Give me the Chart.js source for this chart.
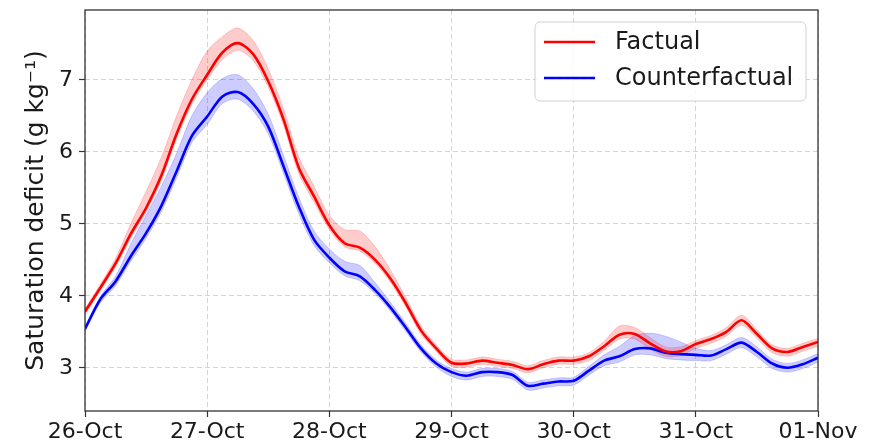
<!DOCTYPE html>
<html><head><meta charset="utf-8">
<script src="https://cdn.jsdelivr.net/npm/chart.js@4"></script>
<style>html,body{margin:0;padding:0;background:#fff}#wrap{width:874px;height:447px}</style>
</head><body><div id="wrap"><canvas id="c" width="874" height="447"></canvas></div>
<script>
// ---- data (time in hours since 26-Oct 00:00) ----
const dayLabels = ['26-Oct','27-Oct','28-Oct','29-Oct','30-Oct','31-Oct','01-Nov'];
const yTicks = [3, 4, 5, 6, 7];
const hours = [0,3,6,9,12,15,18,21,24,27,30,33,36,39,42,45,48,51,54,57,60,63,66,69,72,75,78,81,84,87,90,93,96,99,102,105,108,111,114,117,120,123,126,129,132,135,138,141,144];

const factual = [3.78,4.11,4.45,4.86,5.22,5.67,6.25,6.73,7.07,7.38,7.51,7.36,6.98,6.45,5.78,5.38,4.98,4.73,4.67,4.50,4.24,3.90,3.52,3.27,3.07,3.06,3.10,3.07,3.04,2.98,3.05,3.10,3.10,3.16,3.30,3.46,3.47,3.34,3.23,3.23,3.33,3.40,3.50,3.66,3.47,3.27,3.22,3.29,3.36];
const factualHigh = [3.82,4.16,4.52,5.00,5.45,5.92,6.50,7.00,7.40,7.60,7.72,7.55,7.15,6.60,5.93,5.52,5.12,4.92,4.90,4.68,4.36,3.98,3.58,3.32,3.12,3.11,3.15,3.12,3.09,3.03,3.10,3.15,3.15,3.21,3.37,3.58,3.56,3.42,3.29,3.29,3.38,3.45,3.56,3.73,3.53,3.32,3.27,3.34,3.41];
const factualLow = [3.74,4.07,4.40,4.80,5.16,5.60,6.18,6.66,7.00,7.28,7.41,7.27,6.90,6.37,5.70,5.30,4.92,4.68,4.62,4.45,4.19,3.85,3.47,3.23,3.02,3.01,3.05,3.02,2.99,2.93,3.00,3.05,3.05,3.10,3.24,3.40,3.40,3.26,3.16,3.17,3.27,3.34,3.44,3.59,3.41,3.21,3.16,3.23,3.30];

const counterfactual = [3.54,3.95,4.20,4.55,4.87,5.25,5.73,6.22,6.49,6.77,6.83,6.67,6.35,5.80,5.24,4.78,4.53,4.34,4.27,4.08,3.84,3.56,3.27,3.06,2.94,2.89,2.94,2.94,2.90,2.75,2.78,2.81,2.82,2.96,3.10,3.16,3.26,3.27,3.21,3.19,3.18,3.17,3.26,3.35,3.22,3.06,3.00,3.05,3.14];
const counterfactualHigh = [3.57,3.99,4.27,4.72,5.12,5.52,5.98,6.50,6.82,7.02,7.07,6.88,6.52,5.95,5.37,4.90,4.65,4.48,4.42,4.18,3.91,3.62,3.32,3.11,2.99,2.94,2.99,2.99,2.95,2.80,2.83,2.86,2.87,3.02,3.18,3.30,3.45,3.48,3.44,3.36,3.27,3.24,3.32,3.42,3.29,3.12,3.06,3.11,3.20];
const counterfactualLow = [3.51,3.90,4.14,4.48,4.80,5.17,5.64,6.13,6.38,6.67,6.73,6.57,6.25,5.70,5.14,4.70,4.46,4.28,4.21,4.03,3.79,3.51,3.22,3.01,2.88,2.83,2.88,2.88,2.84,2.69,2.72,2.75,2.76,2.90,3.03,3.08,3.18,3.18,3.13,3.11,3.10,3.10,3.19,3.28,3.15,2.99,2.94,2.99,3.08];

const seriesNames = ['Factual', 'Counterfactual'];
// ---------------------------------------------------------------

const toXY = arr => arr.map((v, i) => ({x: hours[i] / 24, y: v}));
const FONT = "'DejaVu Sans', 'Liberation Sans', sans-serif";
const TXT = '#1a1a1a';

const lineCommon = {pointRadius: 0, borderWidth: 2.6, tension: 0.3, fill: false};
const bandCommon = {pointRadius: 0, borderWidth: 1, tension: 0.3};

const datasets = [
  Object.assign({label: seriesNames[0], data: toXY(factual), borderColor: '#ff0000'}, lineCommon),
  Object.assign({label: seriesNames[1], data: toXY(counterfactual), borderColor: '#0000ff'}, lineCommon),
  Object.assign({label: 'fh', data: toXY(factualHigh), borderColor: 'rgba(255,0,0,0.18)', backgroundColor: 'rgba(255,0,0,0.2)', fill: '+1'}, bandCommon),
  Object.assign({label: 'fl', data: toXY(factualLow), borderColor: 'rgba(255,0,0,0.18)', fill: false}, bandCommon),
  Object.assign({label: 'ch', data: toXY(counterfactualHigh), borderColor: 'rgba(0,0,255,0.18)', backgroundColor: 'rgba(0,0,255,0.2)', fill: '+1'}, bandCommon),
  Object.assign({label: 'cl', data: toXY(counterfactualLow), borderColor: 'rgba(0,0,255,0.18)', fill: false}, bandCommon)
];

const framePlugin = {
  id: 'frameLegend',
  afterDraw(chart) {
    const ctx = chart.ctx, a = chart.chartArea;
    ctx.save();
    ctx.strokeStyle = '#333';
    ctx.lineWidth = 1.3;
    ctx.strokeRect(a.left, a.top, a.right - a.left, a.bottom - a.top);
    // legend
    const bw = 271, bh = 79;
    const bx = a.right - 12 - bw, by = a.top + 12;
    const r = 5;
    ctx.beginPath();
    ctx.moveTo(bx + r, by);
    ctx.arcTo(bx + bw, by, bx + bw, by + bh, r);
    ctx.arcTo(bx + bw, by + bh, bx, by + bh, r);
    ctx.arcTo(bx, by + bh, bx, by, r);
    ctx.arcTo(bx, by, bx + bw, by, r);
    ctx.closePath();
    ctx.fillStyle = 'rgba(255,255,255,0.85)';
    ctx.fill();
    ctx.strokeStyle = '#d0d0d0';
    ctx.lineWidth = 1;
    ctx.stroke();
    ctx.font = '24px ' + FONT;
    ctx.textBaseline = 'middle';
    ctx.fillStyle = TXT;
    [0, 1].forEach((k, j) => {
      const ds = chart.data.datasets[k];
      const yy = by + 20 + j * 36;
      ctx.strokeStyle = ds.borderColor;
      ctx.lineWidth = 2.6;
      ctx.beginPath();
      ctx.moveTo(bx + 9, yy);
      ctx.lineTo(bx + 60, yy);
      ctx.stroke();
      ctx.fillText(ds.label, bx + 80, yy + 1);
    });
    ctx.restore();
  }
};

new Chart(document.getElementById('c'), {
  type: 'line',
  data: {datasets},
  options: {
    responsive: false,
    animation: false,
    devicePixelRatio: 1,
    layout: {padding: {left: 0, right: 56, top: 10, bottom: 0}},
    plugins: {legend: {display: false}, tooltip: {enabled: false}},
    scales: {
      x: {
        type: 'linear',
        min: 0, max: dayLabels.length - 1,
        afterFit(s) { s.height = 36; s.paddingLeft = 0; s.paddingRight = 0; },
        afterBuildTicks(s) { s.ticks = dayLabels.map((_, i) => ({value: i})); },
        ticks: {
          callback: v => dayLabels[v],
          font: {family: FONT, size: 22},
          color: TXT,
          padding: 2,
          maxRotation: 0, autoSkip: false
        },
        grid: {color: '#d4d4d4', lineWidth: 1, tickColor: '#333', tickLength: 6, tickWidth: 1.2},
        border: {display: false, dash: [5, 3]}
      },
      y: {
        min: 2.40, max: 7.97,
        afterFit(s) { s.width = 85; s.paddingTop = 0; s.paddingBottom = 0; },
        afterBuildTicks(s) { s.ticks = yTicks.map(v => ({value: v})); },
        ticks: {
          font: {family: FONT, size: 22},
          color: TXT,
          padding: 6
        },
        grid: {color: '#d4d4d4', lineWidth: 1, tickColor: '#333', tickLength: 6, tickWidth: 1.2},
        border: {display: false, dash: [5, 3]},
        title: {
          display: true,
          text: 'Saturation deficit (g kg⁻¹)',
          font: {family: FONT, size: 25},
          color: TXT,
          padding: {top: 21, bottom: 0}
        }
      }
    }
  },
  plugins: [framePlugin]
});
</script>
</body></html>
